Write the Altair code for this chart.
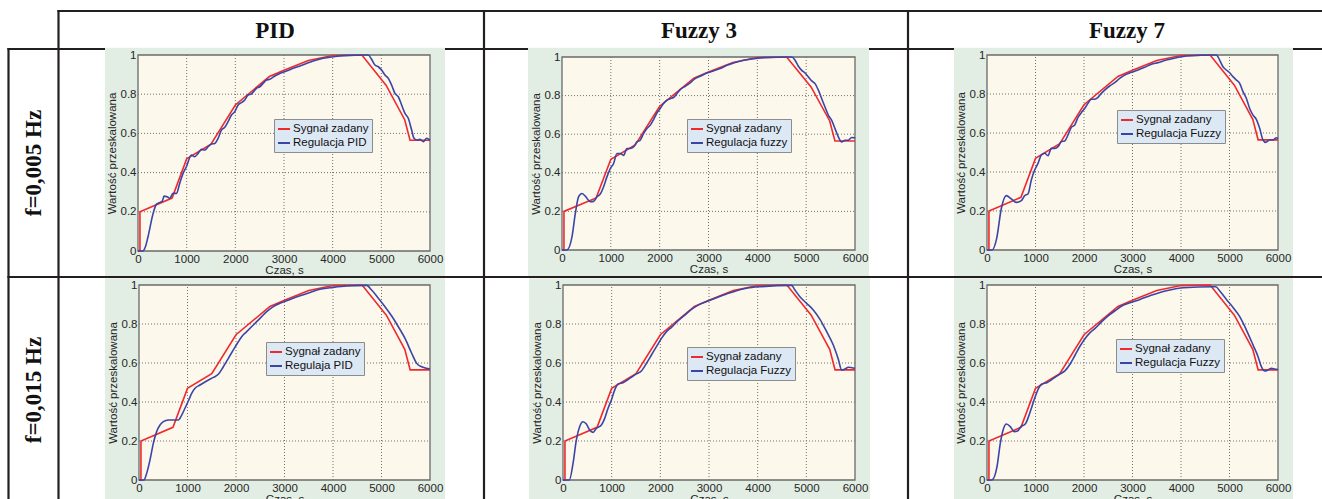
import altair as alt
import pandas as pd

# ---------------- data ----------------
col_headers = ["PID", "Fuzzy 3", "Fuzzy 7"]
row_labels = ["f=0,005 Hz", "f=0,015 Hz"]
setpoint_name = "Sygnał zadany"
response_names = [["Regulacja PID", "Regulacja fuzzy", "Regulacja Fuzzy"],
                  ["Regulaja PID", "Regulacja Fuzzy", "Regulacja Fuzzy"]]
x_title = "Czas, s"
y_title = "Wartość przeskalowana"
x_ticks = [0, 1000, 2000, 3000, 4000, 5000, 6000]
y_ticks = [0, 0.2, 0.4, 0.6, 0.8, 1]

# set-point (same in every panel)
sp_t = [0, 40, 40, 700, 1000, 1500, 2000, 2700, 3000, 3500, 4000, 4600, 5100, 5480, 5590, 6000]
sp_v = [0, 0, 0.2, 0.27, 0.47, 0.545, 0.745, 0.89, 0.922, 0.972, 0.997, 1.0, 0.845, 0.67, 0.565, 0.565]

# PID, f=0.005 Hz
pid005_t = [0, 100, 150, 206, 309, 377, 500, 535, 597, 651, 720, 789, 857, 926, 994, 1097, 1166, 1234,
            1303, 1371, 1440, 1509, 1577, 1646, 1714, 1783, 1851, 1920, 1989, 2057, 2126, 2194, 2263,
            2331, 2434, 2503, 2571, 2640, 2709, 2811, 2914, 3051, 3189, 3326, 3463, 3600, 3806, 4011,
            4217, 4731, 4800, 4869, 4937, 5006, 5074, 5143, 5211, 5280, 5349, 5417, 5486, 5554, 5623,
            5671, 5726, 5794, 5863, 5931, 6000]
pid005_v = [0, 0, 0.02, 0.073, 0.19, 0.238, 0.255, 0.28, 0.277, 0.269, 0.294, 0.294, 0.345, 0.396, 0.43,
            0.49, 0.481, 0.498, 0.519, 0.515, 0.532, 0.546, 0.549, 0.575, 0.617, 0.631, 0.66, 0.694,
            0.711, 0.745, 0.757, 0.77, 0.796, 0.801, 0.83, 0.838, 0.855, 0.872, 0.876, 0.893, 0.906,
            0.918, 0.932, 0.944, 0.957, 0.969, 0.983, 0.991, 0.997, 1.0, 0.978, 0.949, 0.94, 0.923,
            0.898, 0.881, 0.847, 0.804, 0.787, 0.745, 0.702, 0.677, 0.617, 0.575, 0.566, 0.57, 0.558,
            0.575, 0.566]

# Fuzzy 3, f=0.005 Hz
f3_005_t = [0, 100, 205, 273, 341, 409, 477, 580, 648, 716, 784, 852, 920, 989, 1057, 1125, 1193, 1261,
            1330, 1398, 1466, 1534, 1602, 1670, 1739, 1807, 1875, 1943, 2011, 2080, 2148, 2216, 2284,
            2352, 2420, 2523, 2625, 2727, 2830, 2966, 3102, 3239, 3375, 3511, 3716, 3920, 4125, 4705,
            4773, 4841, 4909, 4977, 5045, 5114, 5182, 5250, 5318, 5386, 5455, 5523, 5591, 5659, 5727,
            5795, 5864, 5932, 6000]
f3_005_v = [0, 0, 0.069, 0.19, 0.276, 0.293, 0.279, 0.25, 0.252, 0.276, 0.29, 0.328, 0.379, 0.422, 0.448,
            0.5, 0.5, 0.49, 0.526, 0.526, 0.534, 0.56, 0.569, 0.603, 0.629, 0.647, 0.676, 0.71, 0.733,
            0.759, 0.776, 0.784, 0.79, 0.81, 0.831, 0.848, 0.866, 0.888, 0.9, 0.917, 0.928, 0.94, 0.957,
            0.969, 0.983, 0.991, 0.997, 1.0, 0.983, 0.952, 0.931, 0.917, 0.897, 0.876, 0.862, 0.828,
            0.784, 0.741, 0.698, 0.672, 0.629, 0.586, 0.56, 0.569, 0.569, 0.583, 0.581]

# Fuzzy 7, f=0.005 Hz
f7_005_t = [0, 100, 200, 296, 399, 500, 605, 708, 777, 845, 914, 983, 1052, 1120, 1189, 1258, 1326, 1395,
            1464, 1533, 1601, 1670, 1739, 1808, 1876, 1945, 2014, 2082, 2151, 2220, 2289, 2357, 2426,
            2529, 2632, 2735, 2838, 2976, 3113, 3251, 3388, 3526, 3698, 3904, 4110, 4729, 4797, 4866,
            4935, 5003, 5072, 5141, 5210, 5278, 5347, 5416, 5485, 5553, 5622, 5691, 5746, 5828, 5897,
            5966, 6000]
f7_005_v = [0, 0, 0.06, 0.214, 0.279, 0.262, 0.244, 0.253, 0.279, 0.287, 0.359, 0.41, 0.444, 0.487,
            0.496, 0.484, 0.521, 0.521, 0.53, 0.556, 0.559, 0.59, 0.629, 0.641, 0.68, 0.704, 0.726,
            0.752, 0.773, 0.773, 0.783, 0.803, 0.82, 0.841, 0.858, 0.88, 0.897, 0.911, 0.923, 0.937,
            0.952, 0.961, 0.974, 0.986, 0.995, 1.0, 0.974, 0.94, 0.923, 0.909, 0.889, 0.872, 0.855,
            0.812, 0.778, 0.726, 0.692, 0.67, 0.624, 0.564, 0.552, 0.564, 0.564, 0.576, 0.571]

# PID, f=0.015 Hz
pid015_t = [0, 100, 158, 227, 295, 364, 433, 502, 605, 708, 811, 880, 948, 1017, 1086, 1155, 1258, 1395,
            1533, 1636, 1739, 1842, 1945, 2048, 2117, 2220, 2357, 2495, 2632, 2770, 2907, 3113, 3320,
            3526, 3732, 4007, 4282, 4694, 4797, 4935, 5072, 5210, 5347, 5485, 5622, 5725, 5828, 6000]
pid015_v = [0, 0, 0.034, 0.103, 0.188, 0.248, 0.282, 0.299, 0.308, 0.308, 0.308, 0.333, 0.368, 0.405,
            0.444, 0.47, 0.487, 0.508, 0.526, 0.542, 0.581, 0.624, 0.667, 0.709, 0.735, 0.761, 0.795,
            0.829, 0.863, 0.889, 0.906, 0.926, 0.945, 0.962, 0.978, 0.988, 0.995, 0.998, 0.974, 0.932,
            0.889, 0.841, 0.786, 0.726, 0.65, 0.598, 0.581, 0.569]

# Fuzzy 3, f=0.015 Hz
f3_015_t = [0, 130, 206, 274, 343, 411, 480, 549, 617, 686, 789, 857, 926, 994, 1063, 1131, 1234, 1371,
            1509, 1611, 1714, 1817, 1920, 2023, 2126, 2229, 2366, 2503, 2640, 2777, 2949, 3154, 3360,
            3566, 3771, 4046, 4697, 4766, 4869, 5006, 5143, 5280, 5417, 5554, 5657, 5726, 5794, 5863,
            5931, 6000]
f3_015_v = [0, 0, 0.085, 0.205, 0.274, 0.299, 0.287, 0.256, 0.244, 0.265, 0.282, 0.316, 0.368, 0.41,
            0.462, 0.492, 0.499, 0.521, 0.544, 0.559, 0.598, 0.641, 0.684, 0.726, 0.761, 0.783, 0.817,
            0.846, 0.875, 0.897, 0.915, 0.935, 0.954, 0.971, 0.983, 0.991, 0.998, 0.974, 0.94, 0.906,
            0.872, 0.824, 0.761, 0.692, 0.619, 0.564, 0.569, 0.578, 0.576, 0.573]

# Fuzzy 7, f=0.015 Hz
f7_015_t = [0, 100, 206, 274, 343, 398, 480, 562, 631, 699, 789, 857, 926, 994, 1063, 1131, 1234, 1371,
            1509, 1611, 1714, 1817, 1920, 2023, 2126, 2229, 2366, 2503, 2640, 2777, 2949, 3154, 3360,
            3566, 3771, 4046, 4663, 4717, 4800, 4937, 5074, 5211, 5349, 5486, 5589, 5657, 5726, 5794,
            5863, 5931, 6000]
f7_015_v = [0, 0, 0.068, 0.188, 0.265, 0.287, 0.274, 0.248, 0.251, 0.274, 0.287, 0.325, 0.376, 0.427,
            0.47, 0.492, 0.499, 0.521, 0.544, 0.561, 0.595, 0.641, 0.687, 0.726, 0.756, 0.778, 0.812,
            0.843, 0.868, 0.892, 0.909, 0.926, 0.945, 0.962, 0.974, 0.986, 0.991, 0.991, 0.969, 0.926,
            0.885, 0.838, 0.769, 0.692, 0.632, 0.581, 0.559, 0.564, 0.573, 0.569, 0.567]

responses = [[(pid005_t, pid005_v), (f3_005_t, f3_005_v), (f7_005_t, f7_005_v)],
             [(pid015_t, pid015_v), (f3_015_t, f3_015_v), (f7_015_t, f7_015_v)]]

# ---------------- style / layout (pixels) ----------------
CW, CH = 1322, 499
SANS = "Liberation Sans"
SERIF = "Liberation Serif"
GREEN = "#e2ede3"
CREAM = "#fdf8ec"
RED = "#ef2a2e"
BLUE = "#3a45a8"
LEG_FILL = "#dde8f5"
LEG_STROKE = "#8c8c8c"
FRAME = "#6a6a6a"
GRID = "#707070"
LINE = "#231f20"
TXT = "#262626"

h_lines = [(11, 58.5, CW), (49, 8.5, CW), (277, 8.5, CW)]
v_lines = [(8.5, 49, CH), (58.5, 11, CH), (484, 11, CH), (908, 11, CH)]
green_x = [[(105, 445), (528, 869), (954, 1293)],
           [(105, 445), (529, 870), (954, 1293)]]
green_y = [(47.8, 276), (278.2, CH)]
plot_x = [[(138, 430), (562, 855), (987, 1278)],
          [(139, 430), (563, 855), (987, 1278)]]
plot_y = [[(251, 55), (250, 57), (250, 55)],
          [(480, 285), (480, 285), (480, 285)]]
legend_xy = [[(274, 119), (687, 119), (1117, 110)],
             [(266, 342), (687, 347), (1116, 339)]]
header_x = [275, 699, 1127]
header_y = 31
row_label_x = 34
row_label_y = [163, 390]

one = alt.Data(values=[{"k": 1}])


def panel(r, c):
    xr, yr = plot_x[r][c], plot_y[r][c]
    lx, ly = legend_xy[r][c]
    resp_t, resp_v = responses[r][c]
    resp_name = response_names[r][c]

    xs = alt.Scale(domain=[0, 6000], range=list(xr), nice=False, zero=False)
    ys = alt.Scale(domain=[0, 1], range=list(yr), nice=False, zero=False)

    xaxis = alt.Axis(orient="bottom", values=x_ticks, format="d", offset=yr[0] - CH,
                     grid=False, ticks=False, domain=False,
                     labelFont=SANS, labelFontSize=11.5, labelColor=TXT,
                     labelPadding=2, labelFlush=False, labelOverlap=False,
                     title=x_title, titleFont=SANS, titleFontSize=11.5, titleFontWeight="normal",
                     titleColor=TXT, titlePadding=0, zindex=1)
    yaxis = alt.Axis(orient="left", values=y_ticks, format="~g", offset=-xr[0],
                     grid=False, ticks=False, domain=False,
                     labelFont=SANS, labelFontSize=11.5, labelColor=TXT,
                     labelPadding=2, labelFlush=False, labelOverlap=False,
                     title=y_title, titleFont=SANS, titleFontSize=11.5, titleFontWeight="normal",
                     titleColor=TXT, titlePadding=3, zindex=1)

    area = alt.Chart(one).mark_rect(fill=CREAM, stroke=FRAME, strokeWidth=1.3).encode(
        x=alt.XDatum(0, type="quantitative", scale=xs, axis=xaxis),
        x2=alt.X2Datum(6000),
        y=alt.YDatum(0, type="quantitative", scale=ys, axis=yaxis),
        y2=alt.Y2Datum(1))

    xg = alt.Chart(pd.DataFrame({"g": x_ticks[1:-1]})).mark_rule(
        color=GRID, strokeDash=[1, 2], strokeWidth=1).encode(
        x=alt.X("g:Q", scale=xs, axis=xaxis),
        y=alt.YDatum(0, type="quantitative", scale=ys, axis=yaxis),
        y2=alt.Y2Datum(1))

    yg = alt.Chart(pd.DataFrame({"g": y_ticks[1:-1]})).mark_rule(
        color=GRID, strokeDash=[1, 2], strokeWidth=1).encode(
        y=alt.Y("g:Q", scale=ys, axis=yaxis),
        x=alt.XDatum(0, type="quantitative", scale=xs, axis=xaxis),
        x2=alt.X2Datum(6000))

    color = alt.Color(
        "s:N",
        scale=alt.Scale(domain=[setpoint_name, resp_name], range=[RED, BLUE]),
        legend=alt.Legend(orient="none", legendX=lx, legendY=ly, title=None,
                          fillColor=LEG_FILL, strokeColor=LEG_STROKE, padding=3,
                          labelFont=SANS, labelFontSize=11.5, labelColor="#111",
                          symbolType="stroke", symbolStrokeWidth=2, symbolSize=144,
                          rowPadding=1, labelOffset=2, labelLimit=300))

    sp_df = pd.DataFrame({"t": sp_t, "v": sp_v, "s": setpoint_name})
    rs_df = pd.DataFrame({"t": resp_t, "v": resp_v, "s": resp_name})

    red = alt.Chart(sp_df).mark_line(strokeWidth=1.6).encode(
        x=alt.X("t:Q", scale=xs, axis=xaxis),
        y=alt.Y("v:Q", scale=ys, axis=yaxis),
        color=color)
    blue = alt.Chart(rs_df).mark_line(strokeWidth=1.6, interpolate="monotone").encode(
        x=alt.X("t:Q", scale=xs, axis=xaxis),
        y=alt.Y("v:Q", scale=ys, axis=yaxis),
        color=color)

    return alt.layer(area, xg, yg, red, blue)


layers = []
# table lines
for (y, x1, x2) in h_lines:
    layers.append(alt.Chart(one).mark_rule(color=LINE, strokeWidth=2.2, strokeCap="square").encode(
        x=alt.value(x1), x2=alt.value(x2), y=alt.value(y)))
for (x, y1, y2) in v_lines:
    layers.append(alt.Chart(one).mark_rule(color=LINE, strokeWidth=2.2, strokeCap="square").encode(
        x=alt.value(x), y=alt.value(y1), y2=alt.value(y2)))
# green figure backgrounds
for r in range(2):
    for c in range(3):
        gx0, gx1 = green_x[r][c]
        gy0, gy1 = green_y[r]
        layers.append(alt.Chart(one).mark_rect(fill=GREEN).encode(
            x=alt.value(gx0), x2=alt.value(gx1), y=alt.value(gy0), y2=alt.value(gy1)))
# header texts
for c, name in enumerate(col_headers):
    layers.append(alt.Chart(pd.DataFrame({"h": [name]})).mark_text(
        font=SERIF, fontWeight="bold", fontSize=23, color="#111").encode(
        x=alt.value(header_x[c]), y=alt.value(header_y), text="h:N"))
# row labels
for r, lab in enumerate(row_labels):
    layers.append(alt.Chart(pd.DataFrame({"lab": [lab]})).mark_text(
        font=SERIF, fontWeight="bold", fontSize=23, color="#111", angle=270).encode(
        x=alt.value(row_label_x), y=alt.value(row_label_y[r]), text="lab:N"))
# the six plots
for r in range(2):
    for c in range(3):
        layers.append(panel(r, c))

chart = alt.layer(*layers).resolve_scale(
    x="independent", y="independent", color="independent").properties(
    width=CW, height=CH, padding=0, background="white",
    autosize=alt.AutoSizeParams(type="none"),
    view=alt.ViewBackground(stroke="transparent"))

chart.save("out.html", embed_options={"renderer": "svg", "actions": False})
